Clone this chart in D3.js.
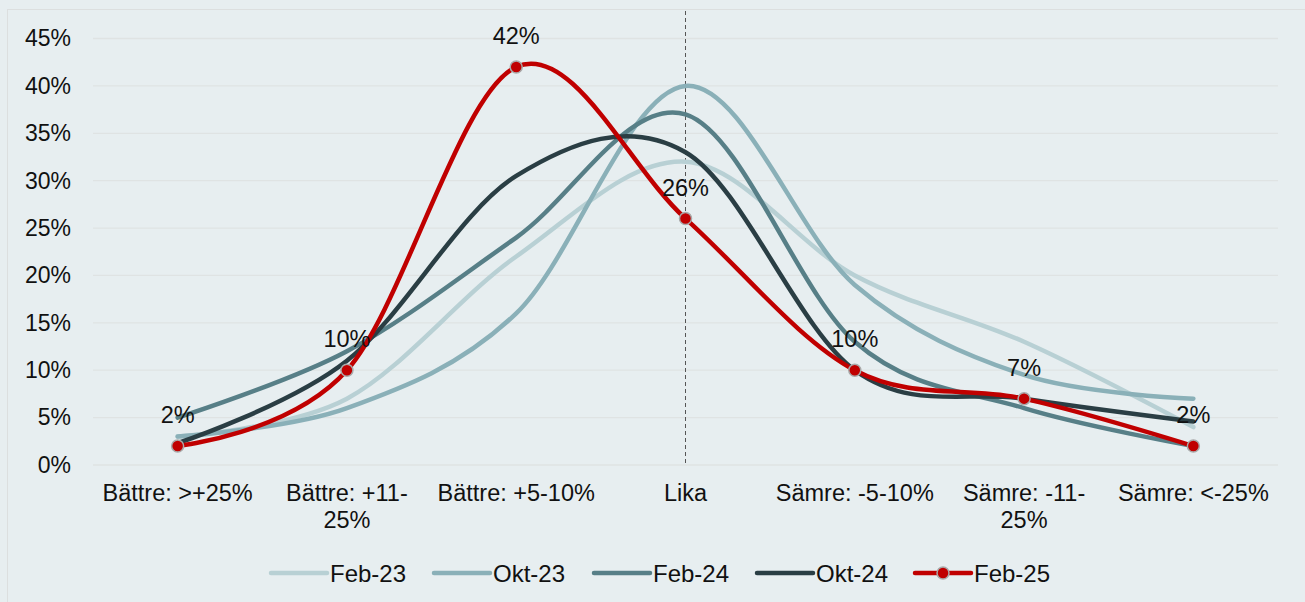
<!DOCTYPE html>
<html>
<head>
<meta charset="utf-8">
<script src="https://cdn.jsdelivr.net/npm/d3@7"></script>
<style>
  body { margin: 0; background: #e7eef0; }
  svg { display: block; font-family: "Liberation Sans", Arial, sans-serif; }
</style>
</head>
<body>
<script>
// categories on the x axis (line breaks where the original wraps)
var categories = ["Bättre: >+25%", "Bättre: +11-25%", "Bättre: +5-10%", "Lika", "Sämre: -5-10%", "Sämre: -11-25%", "Sämre: <-25%"];
var catLines = [["Bättre: >+25%"], ["Bättre: +11-", "25%"], ["Bättre: +5-10%"], ["Lika"], ["Sämre: -5-10%"], ["Sämre: -11-", "25%"], ["Sämre: <-25%"]];

var feb23 = [3, 7, 22, 32, 20, 13, 4];
var okt23 = [3, 6, 16, 40, 19, 9.5, 7];
var feb24 = [5, 12, 24, 37, 13, 6, 2];
var okt24 = [2.3, 11, 30.5, 33, 10, 7, 4.6];
var feb25 = [2, 10, 42, 26, 10, 7, 2];

var yTicks = [0, 5, 10, 15, 20, 25, 30, 35, 40, 45];

var series = [
  {name: "Feb-23", values: feb23, color: "#b8d0d4"},
  {name: "Okt-23", values: okt23, color: "#8ab0b8"},
  {name: "Feb-24", values: feb24, color: "#577f87"},
  {name: "Okt-24", values: okt24, color: "#2a3e44"},
  {name: "Feb-25", values: feb25, color: "#c00000", markers: true}
];

var width = 1305, height = 602;
var fs = 23.5;
var svg = d3.select("body").append("svg")
    .attr("width", width)
    .attr("height", height);

// outer frame
svg.append("rect")
    .attr("x", 7.5).attr("y", 9.5)
    .attr("width", 1310).attr("height", 620)
    .attr("fill", "none")
    .attr("stroke", "#dcdfdf");

var x = d3.scalePoint().domain(categories).range([93, 1278]).padding(0.5);
var y = d3.scaleLinear().domain([0, 45]).range([465, 38.5]);

// gridlines
svg.append("g").selectAll("line")
    .data(yTicks)
    .enter().append("line")
    .attr("x1", 93).attr("x2", 1278)
    .attr("y1", function(d) { return y(d); })
    .attr("y2", function(d) { return y(d); })
    .attr("stroke", "#dfe3e3")
    .attr("stroke-width", 1.3);

// y axis labels
var yAxis = d3.axisLeft(y).tickValues(yTicks).tickSize(0).tickPadding(0)
    .tickFormat(function(d) { return d + "%"; });
var gy = svg.append("g").attr("transform", "translate(71,0)").call(yAxis);
gy.select(".domain").remove();
gy.selectAll("text").attr("font-size", 23).attr("fill", "#111")
    .attr("font-family", "Liberation Sans, Arial, sans-serif");

// x axis labels
var gx = svg.append("g");
catLines.forEach(function(lines, i) {
  var t = gx.append("text")
      .attr("x", x(categories[i]))
      .attr("y", 501)
      .attr("text-anchor", "middle")
      .attr("font-size", fs)
      .attr("fill", "#111");
  lines.forEach(function(l, j) {
    t.append("tspan").attr("x", x(categories[i])).attr("dy", j == 0 ? 0 : 27).text(l);
  });
});

// dashed line at "Lika"
svg.append("line")
    .attr("x1", x("Lika")).attr("x2", x("Lika"))
    .attr("y1", 11).attr("y2", 465)
    .attr("stroke", "#555")
    .attr("stroke-width", 1)
    .attr("stroke-dasharray", "4,3");

var line = d3.line()
    .x(function(d, i) { return x(categories[i]); })
    .y(function(d) { return y(d); })
    .curve(d3.curveCatmullRom.alpha(0));

series.forEach(function(s) {
  svg.append("path")
      .datum(s.values)
      .attr("d", line)
      .attr("fill", "none")
      .attr("stroke", s.color)
      .attr("stroke-width", 4.5)
      .attr("stroke-linecap", "round");
});

// markers and labels for Feb-25
var last = series[4];
svg.append("g").selectAll("circle")
    .data(last.values)
    .enter().append("circle")
    .attr("cx", function(d, i) { return x(categories[i]); })
    .attr("cy", function(d) { return y(d); })
    .attr("r", 6)
    .attr("fill", last.color)
    .attr("stroke", "#a9a9a9")
    .attr("stroke-width", 1.5);

svg.append("g").selectAll("text")
    .data(last.values)
    .enter().append("text")
    .attr("x", function(d, i) { return x(categories[i]); })
    .attr("y", function(d) { return y(d) - 23; })
    .attr("text-anchor", "middle")
    .attr("font-size", fs)
    .attr("fill", "#111")
    .text(function(d) { return d + "%"; });

// legend
var legendX = [271, 434, 594, 757, 915];
var legend = svg.append("g");
series.forEach(function(s, i) {
  var g = legend.append("g").attr("transform", "translate(" + legendX[i] + ",573)");
  g.append("line")
      .attr("x1", 0).attr("x2", 56)
      .attr("stroke", s.color)
      .attr("stroke-width", 4.5)
      .attr("stroke-linecap", "round");
  if (s.markers) {
    g.append("circle").attr("cx", 28).attr("r", 6)
        .attr("fill", s.color).attr("stroke", "#a9a9a9").attr("stroke-width", 1.5);
  }
  g.append("text")
      .attr("x", 59).attr("y", 8.5)
      .attr("font-size", 24)
      .attr("fill", "#111")
      .text(s.name);
});
</script>
</body>
</html>
